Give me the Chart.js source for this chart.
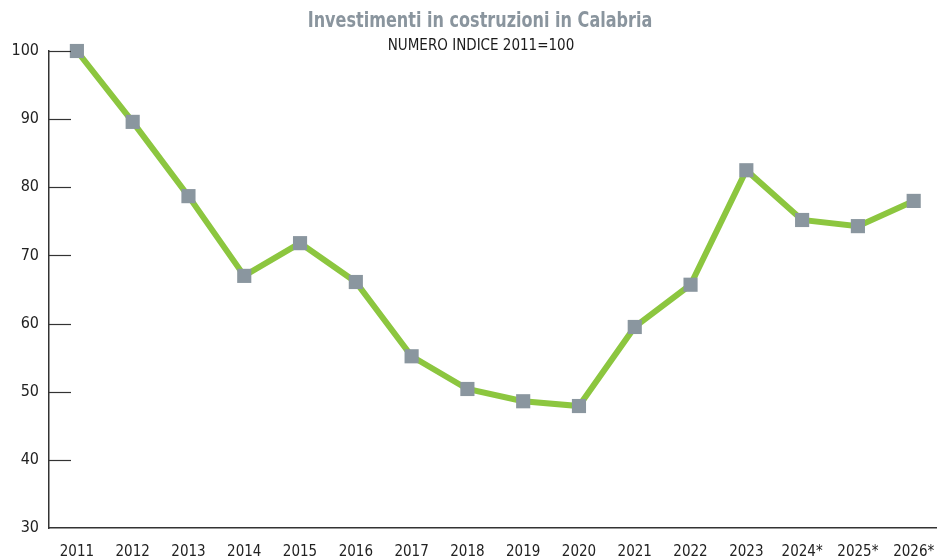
<!DOCTYPE html>
<html>
<head>
<meta charset="utf-8">
<script src="https://cdn.jsdelivr.net/npm/chart.js@4.4.1/dist/chart.umd.min.js"></script>
<style>
  html, body { margin: 0; padding: 0; background: #fff; overflow: hidden; }
  #wrap { position: relative; width: 938px; height: 559px; }
  #title { position: absolute; left: 0; width: 960px; top: 8px; text-align: center;
    font-family: "DejaVu Sans Condensed", "DejaVu Sans", sans-serif;
    font-weight: bold; font-size: 21px; color: #8a959e;
    transform: scaleX(0.85); transform-origin: 480px 0; }
  #subtitle { position: absolute; left: 0; width: 962px; top: 36px; text-align: center;
    font-family: "DejaVu Sans Condensed", "DejaVu Sans", sans-serif;
    font-size: 15px; color: #1a1a1a; }
</style>
</head>
<body>
<div id="wrap">
  <canvas id="indexChart" width="938" height="559"></canvas>
  <div id="title">Investimenti in costruzioni in Calabria</div>
  <div id="subtitle">NUMERO INDICE 2011=100</div>
</div>
<script>
const years = ['2011', '2012', '2013', '2014', '2015', '2016', '2017', '2018',
  '2019', '2020', '2021', '2022', '2023', '2024*', '2025*', '2026*'];
const indexValues = [100, 89.6, 78.7, 67.0, 71.8, 66.1, 55.2, 50.4,
  48.6, 47.9, 59.5, 65.7, 82.5, 75.2, 74.3, 78.0];
const yTicks = [30, 40, 50, 60, 70, 80, 90, 100];

const fontFamily = '"DejaVu Sans Condensed", "DejaVu Sans", sans-serif';

// short tick marks drawn inside the plot area, starting at the y axis
const innerTicks = {
  id: 'innerTicks',
  afterDraw(chart) {
    const ctx = chart.ctx;
    const y = chart.scales.y;
    const left = chart.chartArea.left;
    ctx.save();
    ctx.strokeStyle = '#333';
    ctx.lineWidth = 1.2;
    yTicks.forEach(v => {
      if (v === 30) return;
      const py = Math.round(y.getPixelForValue(v)) + 0.5;
      ctx.beginPath();
      ctx.moveTo(left, py);
      ctx.lineTo(left + 22, py);
      ctx.stroke();
    });
    ctx.restore();
  }
};

const ctx = document.getElementById('indexChart').getContext('2d');

new Chart(ctx, {
  type: 'line',
  data: {
    datasets: [{
      data: indexValues.map((v, i) => ({ x: i, y: v })),
      borderColor: '#8cc63f',
      borderWidth: 6,
      tension: 0,
      pointStyle: 'rect',
      pointRadius: 10,
      pointHoverRadius: 10,
      pointBackgroundColor: '#8a969f',
      pointBorderWidth: 0,
      clip: false
    }]
  },
  options: {
    responsive: false,
    animation: false,
    layout: { autoPadding: false, padding: { top: 51, right: 2, bottom: 0, left: 0 } },
    plugins: {
      legend: { display: false },
      tooltip: { enabled: false }
    },
    scales: {
      x: {
        type: 'linear',
        min: -0.5,
        max: 15.4,
        grid: { display: false },
        border: { display: true, color: '#333', width: 1.5 },
        afterBuildTicks: axis => {
          axis.ticks = years.map((_, i) => ({ value: i }));
        },
        afterFit: axis => {
          axis.height = 31;
          axis.paddingLeft = 0;
          axis.paddingRight = 0;
        },
        ticks: {
          autoSkip: false,
          maxRotation: 0,
          padding: 7,
          color: '#222',
          font: { family: fontFamily, size: 15 },
          callback: v => years[v] || ''
        }
      },
      y: {
        min: 30,
        max: 100,
        grid: { display: false },
        border: { display: true, color: '#333', width: 1.5 },
        afterBuildTicks: axis => {
          axis.ticks = yTicks.map(v => ({ value: v }));
        },
        afterFit: axis => {
          axis.width = 49;
        },
        ticks: {
          padding: 2,
          color: '#222',
          font: { family: fontFamily, size: 16 }
        }
      }
    }
  },
  plugins: [innerTicks]
});
</script>
</body>
</html>
